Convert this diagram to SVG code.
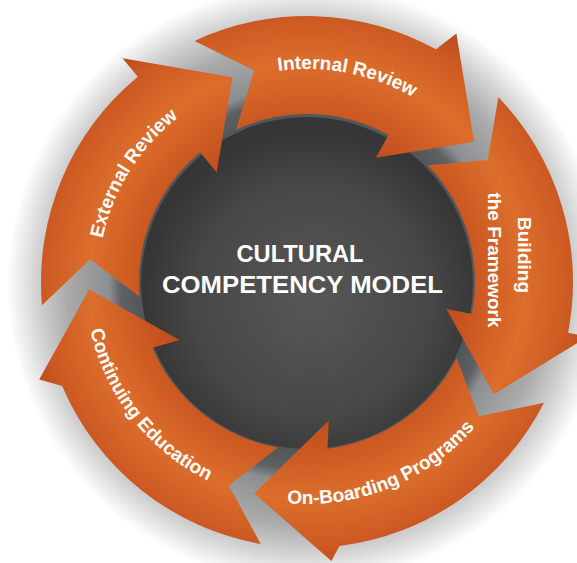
<svg xmlns="http://www.w3.org/2000/svg" width="577" height="563" viewBox="0 0 577 563">
  <defs>
    <radialGradient id="bgRing" gradientUnits="userSpaceOnUse" cx="307" cy="284" r="300">
      <stop offset="0.50" stop-color="#4a4d50"/>
      <stop offset="0.62" stop-color="#5d6164"/>
      <stop offset="0.66" stop-color="#8c8e90"/>
      <stop offset="0.80" stop-color="#aaaaaa"/>
      <stop offset="0.90" stop-color="#d2d2d2"/>
      <stop offset="1" stop-color="#ffffff"/>
    </radialGradient>
    <radialGradient id="dark" gradientUnits="userSpaceOnUse" cx="312" cy="300" r="168">
      <stop offset="0" stop-color="#575757"/>
      <stop offset="0.7" stop-color="#474747"/>
      <stop offset="1" stop-color="#363636"/>
    </radialGradient>
    <radialGradient id="orange" gradientUnits="userSpaceOnUse" cx="307" cy="282" r="290">
      <stop offset="0.49" stop-color="#c04d1d"/>
      <stop offset="0.59" stop-color="#cb5922"/>
      <stop offset="0.75" stop-color="#dc6e2c"/>
      <stop offset="0.92" stop-color="#cb5822"/>
      <stop offset="1" stop-color="#bd4b1b"/>
    </radialGradient>
    <path id="tpInternal" d="M203.74,95.71 A213,213 0 0 1 472.53,147.95"/>
    <path id="tpExternal" d="M100.03,311.09 A209,209 0 0 1 242.42,83.23"/>
    <path id="tpOnboard" d="M238.40,493.13 A222,222 0 0 0 503.01,386.22"/>
    <path id="tpContinuing" d="M85.14,274.25 A222,222 0 0 0 260.84,499.15"/>
  </defs>
  <style>
    .arrow { fill: url(#orange); }
    .lbl { fill: #ffffff; font-family: "Liberation Sans", Arial, sans-serif; font-weight: bold; font-size: 19px; }
    .title { fill: #ffffff; font-family: "Liberation Sans", Arial, sans-serif; font-weight: bold; font-size: 23px; text-anchor: middle; }
  </style>
  <rect width="577" height="563" fill="#ffffff"/>
  <circle cx="307" cy="284" r="300" fill="url(#bgRing)"/>

  <g id="center">
    <circle cx="307" cy="283" r="166" fill="url(#dark)"/>
    <text class="title" x="300" y="262" textLength="127" lengthAdjust="spacingAndGlyphs">CULTURAL</text>
    <text class="title" x="302.5" y="293" textLength="281" lengthAdjust="spacingAndGlyphs">COMPETENCY MODEL</text>
  </g>

  <g id="connectors">
    <g id="internal-review">
      <path class="arrow" d="M194.58,40.92 A266,266 0 0 1 435.96,49.35 L456.36,33.42 L474.00,141.87 L375.84,157.80 L388.45,135.06 A168,168 0 0 0 236.00,129.74 L254.26,70.47 Z"/>
      <text class="lbl"><textPath href="#tpInternal" startOffset="50%" text-anchor="middle">Internal Review</textPath></text>
    </g>
    <g id="building-the-framework">
      <path class="arrow" d="M498.34,97.22 A266,266 0 0 1 568.11,332.76 L587.75,336.57 L493.86,394.28 L446.39,309.10 L471.91,314.06 A168,168 0 0 0 427.85,165.30 L487.73,160.10 Z"/>
      <text class="lbl" font-size="19.5" text-anchor="middle" transform="translate(518,255) rotate(90)">Building</text>
      <text class="lbl" font-size="19.5" text-anchor="middle" transform="translate(488,260) rotate(90)">the Framework</text>
    </g>
    <g id="on-boarding-programs">
      <path class="arrow" d="M544.01,402.76 A266,266 0 0 1 339.42,546.02 L331.40,560.93 L254.26,493.53 L328.90,420.28 L327.47,448.75 A168,168 0 0 0 456.69,358.27 L478.79,416.21 Z"/>
      <text class="lbl"><textPath href="#tpOnboard" startOffset="50%" text-anchor="middle">On-Boarding Programs</textPath></text>
    </g>
    <g id="continuing-education">
      <path class="arrow" d="M260.81,543.96 A266,266 0 0 1 62.15,385.93 L39.19,379.48 L89.13,289.61 L179.61,340.06 L152.36,347.64 A168,168 0 0 0 277.83,447.45 L228.88,485.52 Z"/>
      <text class="lbl" font-size="18"><textPath href="#tpContinuing" startOffset="50%" text-anchor="middle">Continuing Education</textPath></text>
    </g>
    <g id="external-review">
      <path class="arrow" d="M42.01,305.18 A266,266 0 0 1 137.80,76.75 L122.54,58.23 L232.44,77.15 L216.68,172.43 L200.14,152.37 A168,168 0 0 0 139.64,296.64 L90.19,259.21 Z"/>
      <text class="lbl" font-size="18"><textPath href="#tpExternal" startOffset="50%" text-anchor="middle">External Review</textPath></text>
    </g>
  </g>
</svg>
